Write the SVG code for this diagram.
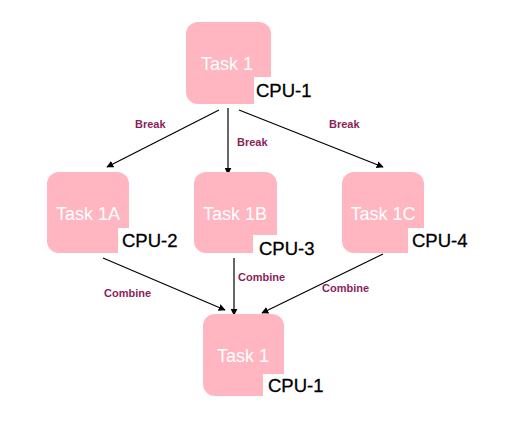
<svg xmlns="http://www.w3.org/2000/svg" width="506" height="430" viewBox="0 0 506 430">
<style>
.box{fill:#FFB6C1}
.tag{fill:#FFFFFF}
.name{font-family:"Liberation Sans",Arial,sans-serif;font-size:18px;fill:#FFFFFF;text-anchor:middle}
.cpu{font-family:"Liberation Sans",Arial,sans-serif;font-size:18.5px;fill:#000000;stroke:#000000;stroke-width:0.3}
.lbl{font-family:"Liberation Sans",Arial,sans-serif;font-size:11px;font-weight:bold;fill:#8B1F5B}
.conn{stroke:#000000;stroke-width:1.2;fill:none;marker-end:url(#ah)}
</style>
<defs>
<marker id="ah" viewBox="0 0 10 10" refX="9" refY="5" markerWidth="7" markerHeight="7" markerUnits="userSpaceOnUse" orient="auto">
<path d="M0,0 L10,5 L0,10 z" fill="#000000"/>
</marker>
</defs>
<rect width="506" height="430" fill="#FFFFFF"/>
<g id="connectors">
<line class="conn" x1="219" y1="110" x2="107" y2="167"/>
<line class="conn" x1="228" y1="108" x2="228" y2="174"/>
<line class="conn" x1="239" y1="110" x2="383" y2="167"/>
<line class="conn" x1="103" y1="258" x2="225" y2="310"/>
<line class="conn" x1="234" y1="258" x2="234" y2="315"/>
<line class="conn" x1="383" y1="254" x2="262" y2="313"/>
<text class="lbl" x="135" y="128">Break</text>
<text class="lbl" x="237" y="146">Break</text>
<text class="lbl" x="329" y="128">Break</text>
<text class="lbl" x="104" y="297">Combine</text>
<text class="lbl" x="238" y="281">Combine</text>
<text class="lbl" x="322" y="292">Combine</text>
</g>
<g id="task1-top">
<rect class="box" x="186" y="22" width="85" height="82" rx="12"/>
<rect class="tag" x="254" y="77" width="64" height="30"/>
<text class="name" x="227" y="70">Task 1</text>
<text class="cpu" x="256" y="97">CPU-1</text>
</g>
<g id="task1a">
<rect class="box" x="47" y="172" width="82" height="81" rx="12"/>
<rect class="tag" x="118" y="228" width="64" height="30"/>
<text class="name" x="88" y="220">Task 1A</text>
<text class="cpu" x="122" y="247">CPU-2</text>
</g>
<g id="task1b">
<rect class="box" x="194" y="172" width="83" height="81" rx="12"/>
<rect class="tag" x="253" y="235" width="66" height="26"/>
<text class="name" x="235" y="220">Task 1B</text>
<text class="cpu" x="259" y="255">CPU-3</text>
</g>
<g id="task1c">
<rect class="box" x="342" y="172" width="82" height="81" rx="12"/>
<rect class="tag" x="408" y="228" width="64" height="30"/>
<text class="name" x="383" y="220">Task 1C</text>
<text class="cpu" x="412" y="247">CPU-4</text>
</g>
<g id="task1-bottom">
<rect class="box" x="203" y="314" width="81" height="82" rx="12"/>
<rect class="tag" x="263" y="374" width="64" height="30"/>
<text class="name" x="243" y="362">Task 1</text>
<text class="cpu" x="268" y="392">CPU-1</text>
</g>
</svg>
